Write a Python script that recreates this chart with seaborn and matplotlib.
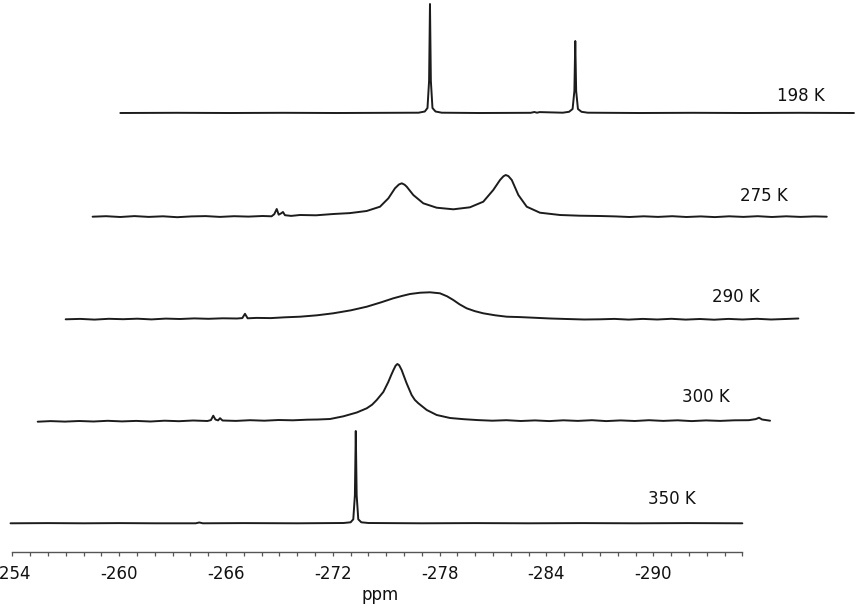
import numpy as np
import pandas as pd
import matplotlib
matplotlib.use("Agg")
import matplotlib.pyplot as plt
import seaborn as sns

# ---------------- data ----------------
temps = ["350 K", "300 K", "290 K", "275 K", "198 K"]

ppm350 = [-253.9, -256, -258, -260, -262, -264.3, -264.5, -264.7, -267, -270, -272.6, -273.0, -273.15,
          -273.24, -273.29, -273.34, -273.43, -273.6, -274.0, -277, -280, -283, -286, -289, -292, -295.0]
int350 = [0, 0.2, 0, 0.2, 0, 0, 0.8, 0, 0.2, 0, 0.3, 1.0, 4, 28, 92.3, 28, 4, 1.0, 0.3, 0, 0.2, 0, 0.2, 0, 0.2, 0]

ppm300 = [-253.87, -254.6, -255.4, -256.2, -257.0, -257.8, -258.6, -259.4, -260.2, -261.0, -261.8, -262.6,
          -263.4, -263.6, -263.73, -263.85, -264.0, -264.11, -264.25, -265.0, -265.8, -266.6, -267.4, -268.2,
          -269.0, -269.6, -270.29, -271.04, -271.79, -272.35, -272.65, -272.91, -273.28, -273.56, -273.72,
          -273.85, -273.97, -274.07, -274.17, -274.31, -274.45, -274.59, -274.87, -275.05, -275.25, -275.72,
          -276.28, -277.03, -277.8, -278.6, -279.4, -280.2, -281.0, -281.8, -282.6, -283.4, -284.2, -285.0,
          -285.8, -286.6, -287.4, -288.2, -289.0, -289.8, -290.6, -291.4, -292.2, -293.0, -293.8, -294.2,
          -294.38, -294.55, -295.0]
int300 = [-1.0, -0.4, -0.9, -0.3, -0.8, -0.1, -0.7, -0.2, -0.8, 0.0, -0.5, 0.2, -0.3, 0.6, 5.0, 1.2, 0.3,
          2.5, 0.2, -0.2, 0.5, 0.0, 0.7, 0.4, 1.0, 1.2, 1.7, 4.4, 8.2, 12.4, 16.0, 20.7, 28.7, 38.7, 45.5,
          50.7, 55.0, 56.7, 55.5, 50.7, 44.0, 37.4, 25.7, 20.8, 17.4, 10.7, 5.7, 2.7, 1.5, 0.6, 0.0, 0.5, -0.3,
          0.3, -0.4, 0.4, -0.2, 0.5, -0.4, 0.3, -0.3, 0.5, -0.2, 0.4, -0.4, 0.3, -0.2, 0.4, 0.5, 1.6, 3.0,
          1.2, 0.0]

ppm290 = [-253.88, -254.7, -255.5, -256.3, -257.1, -257.9, -258.7, -259.5, -260.3, -261.1, -261.9, -262.7,
          -263.5, -263.8, -263.95, -264.1, -264.6, -265.4, -266.2, -267.04, -268.0, -268.91, -269.9, -270.79,
          -271.6, -272.28, -272.8, -273.22, -273.8, -274.34, -274.90, -275.3, -275.65, -276.0, -276.40,
          -276.85, -277.33, -278.0, -278.65, -279.4, -280.14, -281.1, -282.02, -283.0, -283.89, -284.7,
          -285.5, -286.3, -287.1, -287.9, -288.7, -289.5, -290.3, -291.1, -291.9, -292.7, -293.5, -294.3,
          -295.03]
int290 = [0, 0.4, -0.3, 0.5, 0.1, 0.6, -0.1, 0.7, 0.3, 0.9, 0.5, 1.0, 0.8, 1.2, 5.5, 1.0, 1.4, 1.2, 2.0, 2.6,
          4.0, 6.0, 9.0, 12.6, 17.0, 21, 23.5, 25.3, 26.6, 27, 26, 23.0, 19.3, 15.0, 11, 8.2, 6, 4.0, 2.6,
          2.2, 1.6, 0.8, 0.3, -0.2, 0, 0.4, -0.3, 0.4, -0.2, 0.5, -0.3, 0.3, -0.4, 0.4, -0.2, 0.5, -0.2,
          0.3, 0.8]

ppm275 = [-253.85, -254.6, -255.4, -256.2, -257.0, -257.8, -258.6, -259.4, -260.2, -261.0, -261.8, -262.6,
          -263.4, -263.9, -264.05, -264.19, -264.3, -264.45, -264.54, -264.65, -265.0, -265.5, -266.4, -267.37,
          -268.3, -269.24, -269.99, -270.46, -270.83, -271.05, -271.21, -271.37, -271.49, -271.86, -272.42,
          -273.17, -274.11, -275.04, -275.79, -276.35, -276.73, -276.92, -277.05, -277.2, -277.39, -277.76,
          -278.23, -278.97, -280.10, -281.2, -282.34, -283.2, -284.0, -284.8, -285.6, -286.4, -287.2, -288.0,
          -288.8, -289.6, -290.4, -291.2, -292.0, -292.8, -293.6, -294.4, -295.08]
int275 = [0, 0.5, -0.3, 0.6, -0.2, 0.4, -0.5, 0.3, 0.6, -0.2, 0.5, 0.1, 0.7, 0.4, 2.5, 7.7, 2.0, 3.5, 4.7,
          1.5, 0.8, 1.7, 1.4, 2.7, 3.6, 5.7, 10, 18.4, 28.4, 32.2, 33.4, 32.0, 30, 21.7, 13.4, 9, 7.4, 9.4,
          15, 26.7, 36.7, 40.4, 41.7, 40.6, 36.7, 21.7, 10, 4, 1.7, 1.0, 0.7, 0.3, -0.3, 0.4, -0.2, 0.5,
          -0.3, 0.3, -0.4, 0.4, -0.2, 0.5, -0.3, 0.4, -0.2, 0.3, 0]

ppm198 = [-253.85, -257, -260, -263, -266, -269, -270.6, -270.95, -271.1, -271.19, -271.24, -271.29, -271.38,
          -271.55, -271.9, -274, -276.9, -277.1, -277.25, -277.4, -278.7, -279.05, -279.25, -279.35, -279.40,
          -279.45, -279.55, -279.75, -280.1, -283, -286, -289, -292, -295.05]
int198 = [0, 0.2, 0, 0.2, 0, 0.2, 0.3, 1.5, 5, 32, 109, 32, 5, 1.5, 0.3, 0, 0.2, 1.0, 0.3, 0.9, 0.3, 1.2, 4,
          22, 72, 22, 4, 1.2, 0.3, 0, 0.2, 0, 0.2, 0]

tick_values = [-254, -260, -266, -272, -278, -284, -290]
tick_labels = ["-254", "-260", "-266", "-272", "-278", "-284", "-290"]

# ---------------- layout (stacked-plot offsets) ----------------
baseline_offset = [29.0, 131.6, 233.0, 335.6, 439.3]      # vertical stacking
x_shift_ppm = [0.0, 1.556, 3.117, 4.661, 6.217]           # perspective shift to the right
label_pos = [(-291.05, 53.0), (-292.96, 155.6), (-294.64, 255.6), (-296.22, 356.3), (-298.29, 456.3)]

series = [(ppm350, int350), (ppm300, int300), (ppm290, int290), (ppm275, int275), (ppm198, int198)]

frames = []
for name, (p, v), off, sh in zip(temps, series, baseline_offset, x_shift_ppm):
    frames.append(pd.DataFrame({"ppm": np.array(p) - sh,
                                "y": np.array(v) + off,
                                "T": name}))
df = pd.concat(frames, ignore_index=True)

sns.set_theme(style="white")
plt.rcParams["font.family"] = ["DejaVu Sans"]

fig = plt.figure(figsize=(8.61, 6.10), dpi=100)
ax = fig.add_axes([0.0, 57.7 / 610, 1.0, 552.3 / 610])

for name in temps:
    sub = df[df["T"] == name]
    sns.lineplot(data=sub, x="ppm", y="y", ax=ax, color="#1c1c1c", lw=1.4,
                 sort=False, estimator=None, legend=False)

for name, (lx, ly) in zip(temps, label_pos):
    ax.text(lx, ly, name, ha="center", va="center", fontsize=12, color="#111111")

ax.set_xlim(-253.309, -301.664)
ax.set_ylim(0, 552.3)

for s in ["left", "right", "top"]:
    ax.spines[s].set_visible(False)
ax.spines["bottom"].set_visible(True)
ax.spines["bottom"].set_bounds(-254, -295)
ax.spines["bottom"].set_color("#555555")
ax.spines["bottom"].set_linewidth(1.0)

ax.set_yticks([])
ax.set_xticks(tick_values)
ax.set_xticklabels(tick_labels)
ax.set_xticks(np.arange(-254, -296, -1), minor=True)
ax.tick_params(axis="x", which="both", direction="out", length=3.2, width=0.9,
               color="#555555", bottom=True)
ax.tick_params(axis="x", which="major", labelsize=12, pad=6, labelcolor="#111111")

ax.set_xlabel("ppm", fontsize=12, color="#111111")
ax.xaxis.label.set_va("center")
ax.xaxis.set_label_coords(380 / 861, -42.7 / 552.3)
ax.set_ylabel("")

fig.savefig("out.png", dpi=100)
